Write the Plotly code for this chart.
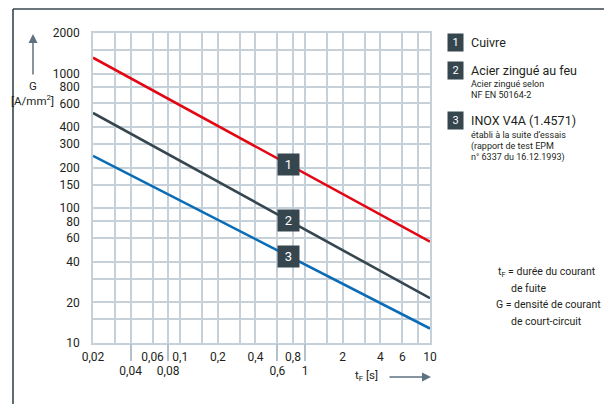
import math
import plotly.graph_objects as go

# ---------------- data ----------------
t_ends = [0.02, 10]                 # leakage duration tF [s]
g_cuivre = [1310, 56.5]             # 1 Cuivre  [A/mm2]
g_acier = [510, 21.5]               # 2 Acier zingué au feu
g_inox = [245, 12.8]                # 3 INOX V4A (1.4571)

x_grid = [0.02, 0.03, 0.04, 0.06, 0.08, 0.1, 0.15, 0.2, 0.3, 0.4, 0.6, 0.8,
          1, 1.5, 2, 3, 4, 6, 8, 10]
x_labels_row1 = {0.02: "0,02", 0.06: "0,06", 0.1: "0,1", 0.2: "0,2", 0.4: "0,4",
                 0.8: "0,8", 2: "2", 4: "4", 6: "6", 10: "10"}
x_labels_row2 = [0.04, 0.08, 0.6, 1]
x_labels_row2_text = ["0,04", "0,08", "0,6", "1"]

y_grid = [10, 15, 20, 30, 40, 60, 80, 100, 150, 200, 300, 400, 600, 800, 1000, 1500, 2000]
y_labels = {10: "10", 20: "20", 40: "40", 60: "60", 80: "80", 100: "100", 150: "150",
            200: "200", 300: "300", 400: "400", 600: "600", 800: "800", 1000: "1000",
            2000: "2000"}

series_names = ["Cuivre", "Acier zingué au feu", "INOX V4A (1.4571)"]
series_vals = [g_cuivre, g_acier, g_inox]
series_colors = ["#e30613", "#36464f", "#0b6cb6"]
box_t = 0.74  # where the numbered markers sit on the lines

FONT = "Roboto"
TXT = "#231f20"
BOX = "#36464f"
GRID = "#c6d0d8"

# page offset (browser body margin) and plot area in window pixels
OFF = 8
FW, FH = 612 - 2 * OFF, 412 - 2 * OFF
L, T, W, H = 93, 33, 337, 310
def px_x(x):
    return (x - L) / W
def px_y(y):
    return (T + H - y) / H

fig = go.Figure()
for name, vals, col in zip(series_names, series_vals, series_colors):
    fig.add_trace(go.Scatter(x=t_ends, y=vals, mode="lines", name=name,
                             line=dict(color=col, width=2.6), showlegend=False,
                             hoverinfo="skip"))
# invisible trace for the second tick row axis
fig.add_trace(go.Scatter(x=t_ends, y=[None, None], xaxis="x2", showlegend=False,
                         hoverinfo="skip"))

def interp(vals, t):
    a = (math.log10(t) - math.log10(t_ends[0])) / (math.log10(t_ends[1]) - math.log10(t_ends[0]))
    return 10 ** (math.log10(vals[0]) + a * (math.log10(vals[1]) - math.log10(vals[0])))

ann = []
for i, vals in enumerate(series_vals):
    ann.append(dict(x=math.log10(box_t), y=math.log10(interp(vals, box_t)), xref="x", yref="y",
                    text=str(i + 1), showarrow=False, width=19, height=19,
                    bgcolor=BOX, font=dict(family=FONT, size=13, color="white"),
                    xanchor="center", yanchor="middle"))

# legend boxes on the right
legend_rows = [(43, "1"), (70, "2"), (120, "3")]
for yc, num in legend_rows:
    ann.append(dict(x=px_x(455), y=px_y(yc), xref="paper", yref="paper", text=num,
                    showarrow=False, width=13, height=15, bgcolor=BOX,
                    font=dict(family=FONT, size=11, color="white"),
                    xanchor="center", yanchor="middle"))

texts = [
    (469, 43, series_names[0], 12.5),
    (469, 70, series_names[1], 12.5),
    (469, 84, "Acier zingué selon", 9),
    (469, 95, "NF EN 50164-2", 9),
    (469, 120, series_names[2], 12.5),
    (469, 135, "établi à la suite d’essais", 9),
    (469, 146, "(rapport de test EPM", 9),
    (469, 157, "n° 6337 du 16.12.1993)", 9),
    (496, 272, "t<sub>F</sub> = durée du courant", 10.5),
    (509, 288, "de fuite", 10.5),
    (494, 304, "G = densité de courant", 10.5),
    (509, 321, "de court-circuit", 10.5),
]
for x, y, s, fs in texts:
    ann.append(dict(x=px_x(x), y=px_y(y), xref="paper", yref="paper", text=s,
                    showarrow=False, xanchor="left", yanchor="middle",
                    font=dict(family=FONT, size=fs, color=TXT)))

# axis titles
ann.append(dict(x=px_x(33), y=px_y(86), xref="paper", yref="paper", text="G",
                showarrow=False, xanchor="center", yanchor="middle",
                font=dict(family=FONT, size=11.5, color=TXT)))
ann.append(dict(x=px_x(33), y=px_y(100), xref="paper", yref="paper", text="[A/mm<sup>2</sup>]",
                showarrow=False, xanchor="center", yanchor="middle",
                font=dict(family=FONT, size=11.5, color=TXT)))
ann.append(dict(x=px_x(366), y=px_y(375), xref="paper", yref="paper", text="t<sub>F</sub> [s]",
                showarrow=False, xanchor="center", yanchor="middle",
                font=dict(family=FONT, size=11.5, color=TXT)))
# arrows
ann.append(dict(x=px_x(33), y=px_y(34), xref="paper", yref="paper", text="", showarrow=True,
                ax=0, ay=42, arrowhead=2, arrowsize=1.2, arrowwidth=1.5, arrowcolor="#5d7280"))
ann.append(dict(x=px_x(431), y=px_y(377), xref="paper", yref="paper", text="", showarrow=True,
                ax=-43, ay=0, arrowhead=2, arrowsize=1.2, arrowwidth=1.5, arrowcolor="#5d7280"))

shapes = [
    # green reference line at 1 s
    dict(type="line", xref="x", yref="paper", x0=0, x1=0, y0=px_y(360), y1=1,
         line=dict(color="#a4c65c", width=2), layer="above"),
    # outer frame (left + top)
    dict(type="line", xref="paper", yref="paper", x0=px_x(13), x1=px_x(13), y0=px_y(420), y1=px_y(9),
         line=dict(color="#37474f", width=1.6)),
    dict(type="line", xref="paper", yref="paper", x0=px_x(13), x1=px_x(620), y0=px_y(9), y1=px_y(9),
         line=dict(color="#37474f", width=1.6)),
]

fig.update_layout(
    width=FW, height=FH,
    margin=dict(l=L - OFF, r=FW - (L - OFF) - W, t=T - OFF, b=FH - (T - OFF) - H, autoexpand=False),
    paper_bgcolor="white", plot_bgcolor="white",
    font=dict(family=FONT, size=12, color=TXT),
    xaxis=dict(type="log", range=[math.log10(0.02), 1], tickvals=x_grid,
               ticktext=[x_labels_row1.get(v, "") for v in x_grid],
               showgrid=True, gridcolor=GRID, gridwidth=1.6, ticks="", zeroline=False,
               showline=True, linecolor=GRID, linewidth=1.6, mirror=True,
               ticklabelstandoff=2, tickfont=dict(family=FONT, size=12, color=TXT)),
    xaxis2=dict(type="log", range=[math.log10(0.02), 1], overlaying="x", anchor="y",
                side="bottom", tickvals=x_labels_row2, ticktext=x_labels_row2_text,
                showgrid=False, ticks="outside", ticklen=17, tickwidth=1.6, tickcolor="#b4c1ca",
                showline=False, zeroline=False, tickfont=dict(family=FONT, size=12, color=TXT)),
    yaxis=dict(type="log", range=[1, math.log10(2000)], tickvals=y_grid,
               ticktext=[y_labels.get(v, "") for v in y_grid],
               showgrid=True, gridcolor=GRID, gridwidth=1.6, ticks="", zeroline=False,
               showline=True, linecolor=GRID, linewidth=1.6, mirror=True,
               ticklabelstandoff=9, tickfont=dict(family=FONT, size=12, color=TXT)),
    annotations=ann, shapes=shapes,
)

fig.write_html("out.html")
